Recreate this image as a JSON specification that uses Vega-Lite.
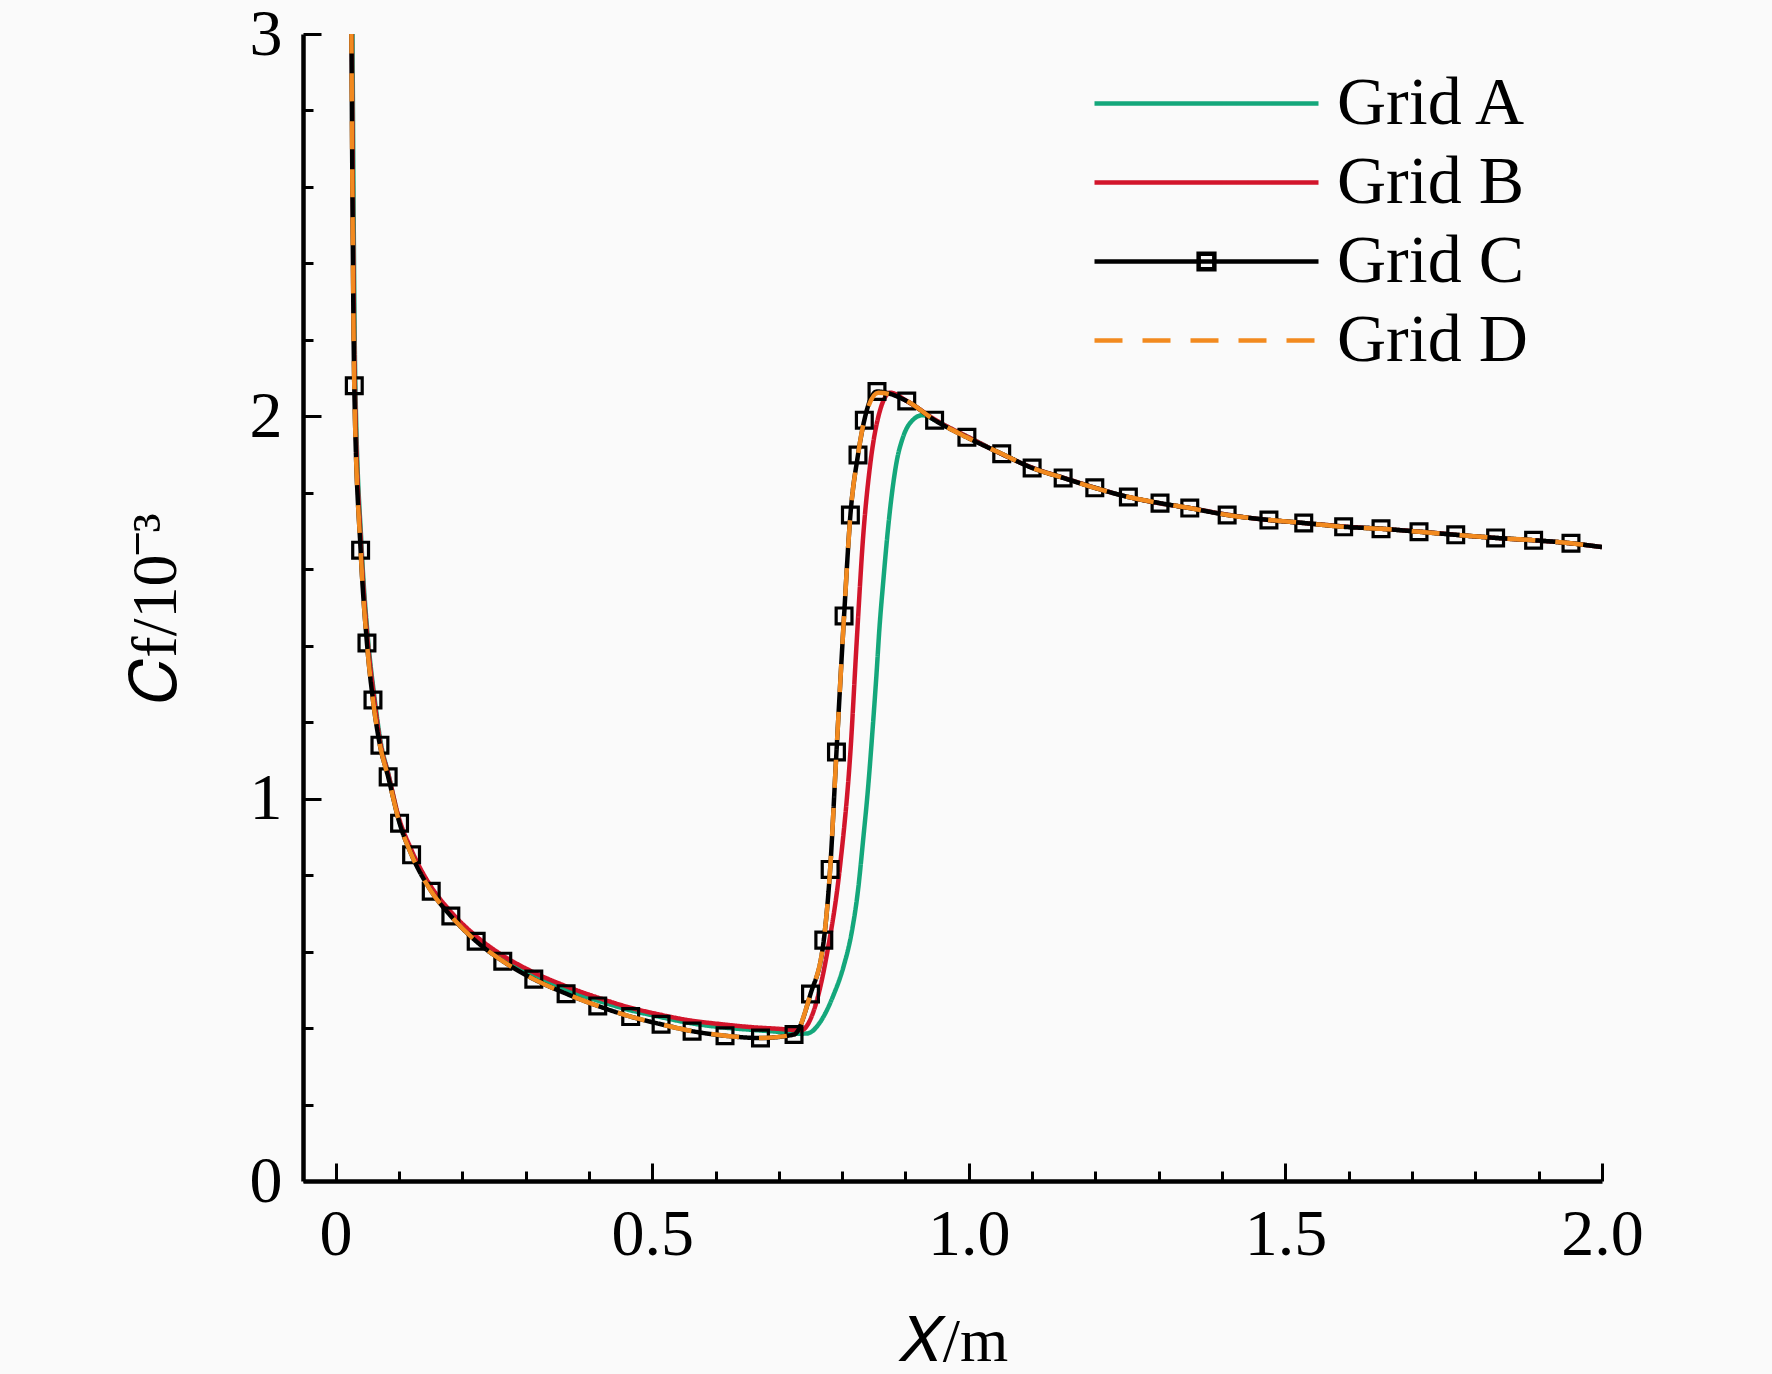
{
  "$schema": "https://vega.github.io/schema/vega-lite/v6.json",
  "width": 1299,
  "height": 1147,
  "autosize": "none",
  "padding": {"left": 303, "top": 34, "right": 170, "bottom": 193},
  "background": "#fafafa",
  "config": {
    "view": {"stroke": null},
    "font": "Liberation Serif"
  },
  "datasets": {
    "curves": [
      {"series": "Grid A", "x": 0.0255, "cf": 3.4},
      {"series": "Grid A", "x": 0.0267, "cf": 3.0},
      {"series": "Grid A", "x": 0.0282, "cf": 2.6},
      {"series": "Grid A", "x": 0.031, "cf": 2.1},
      {"series": "Grid A", "x": 0.041, "cf": 1.66},
      {"series": "Grid A", "x": 0.051, "cf": 1.42},
      {"series": "Grid A", "x": 0.061, "cf": 1.27},
      {"series": "Grid A", "x": 0.071, "cf": 1.15},
      {"series": "Grid A", "x": 0.084, "cf": 1.06},
      {"series": "Grid A", "x": 0.1, "cf": 0.945},
      {"series": "Grid A", "x": 0.12, "cf": 0.86},
      {"series": "Grid A", "x": 0.15, "cf": 0.768},
      {"series": "Grid A", "x": 0.18, "cf": 0.702},
      {"series": "Grid A", "x": 0.22, "cf": 0.637},
      {"series": "Grid A", "x": 0.26, "cf": 0.587},
      {"series": "Grid A", "x": 0.31, "cf": 0.54},
      {"series": "Grid A", "x": 0.36, "cf": 0.503},
      {"series": "Grid A", "x": 0.41, "cf": 0.474},
      {"series": "Grid A", "x": 0.46, "cf": 0.449},
      {"series": "Grid A", "x": 0.51, "cf": 0.43},
      {"series": "Grid A", "x": 0.56, "cf": 0.413},
      {"series": "Grid A", "x": 0.61, "cf": 0.402},
      {"series": "Grid A", "x": 0.66, "cf": 0.395},
      {"series": "Grid A", "x": 0.7, "cf": 0.39},
      {"series": "Grid A", "x": 0.73, "cf": 0.385},
      {"series": "Grid A", "x": 0.745, "cf": 0.386},
      {"series": "Grid A", "x": 0.765, "cf": 0.415},
      {"series": "Grid A", "x": 0.786, "cf": 0.485},
      {"series": "Grid A", "x": 0.802, "cf": 0.56},
      {"series": "Grid A", "x": 0.815, "cf": 0.65},
      {"series": "Grid A", "x": 0.825, "cf": 0.76},
      {"series": "Grid A", "x": 0.833, "cf": 0.89},
      {"series": "Grid A", "x": 0.841, "cf": 1.03},
      {"series": "Grid A", "x": 0.848, "cf": 1.18},
      {"series": "Grid A", "x": 0.854, "cf": 1.32},
      {"series": "Grid A", "x": 0.859, "cf": 1.449},
      {"series": "Grid A", "x": 0.865, "cf": 1.57},
      {"series": "Grid A", "x": 0.871, "cf": 1.682},
      {"series": "Grid A", "x": 0.878, "cf": 1.79},
      {"series": "Grid A", "x": 0.886, "cf": 1.881},
      {"series": "Grid A", "x": 0.896, "cf": 1.945},
      {"series": "Grid A", "x": 0.907, "cf": 1.982},
      {"series": "Grid A", "x": 0.927, "cf": 2.003},
      {"series": "Grid A", "x": 0.949, "cf": 1.988},
      {"series": "Grid A", "x": 0.975, "cf": 1.965},
      {"series": "Grid A", "x": 1.0, "cf": 1.945},
      {"series": "Grid A", "x": 1.05, "cf": 1.903},
      {"series": "Grid A", "x": 1.1, "cf": 1.866},
      {"series": "Grid A", "x": 1.15, "cf": 1.839},
      {"series": "Grid A", "x": 1.2, "cf": 1.813},
      {"series": "Grid A", "x": 1.25, "cf": 1.79},
      {"series": "Grid A", "x": 1.3, "cf": 1.773},
      {"series": "Grid A", "x": 1.35, "cf": 1.76},
      {"series": "Grid A", "x": 1.4, "cf": 1.745},
      {"series": "Grid A", "x": 1.45, "cf": 1.733},
      {"series": "Grid A", "x": 1.5, "cf": 1.725},
      {"series": "Grid A", "x": 1.55, "cf": 1.718},
      {"series": "Grid A", "x": 1.6, "cf": 1.711},
      {"series": "Grid A", "x": 1.65, "cf": 1.706},
      {"series": "Grid A", "x": 1.7, "cf": 1.7},
      {"series": "Grid A", "x": 1.75, "cf": 1.693},
      {"series": "Grid A", "x": 1.8, "cf": 1.686},
      {"series": "Grid A", "x": 1.85, "cf": 1.68},
      {"series": "Grid A", "x": 1.9, "cf": 1.675},
      {"series": "Grid A", "x": 1.95, "cf": 1.668},
      {"series": "Grid A", "x": 2.0, "cf": 1.658},

      {"series": "Grid B", "x": 0.0245, "cf": 3.4},
      {"series": "Grid B", "x": 0.0257, "cf": 3.0},
      {"series": "Grid B", "x": 0.0272, "cf": 2.6},
      {"series": "Grid B", "x": 0.0302, "cf": 2.1},
      {"series": "Grid B", "x": 0.0402, "cf": 1.66},
      {"series": "Grid B", "x": 0.0502, "cf": 1.42},
      {"series": "Grid B", "x": 0.0602, "cf": 1.27},
      {"series": "Grid B", "x": 0.0702, "cf": 1.15},
      {"series": "Grid B", "x": 0.083, "cf": 1.065},
      {"series": "Grid B", "x": 0.1, "cf": 0.95},
      {"series": "Grid B", "x": 0.12, "cf": 0.865},
      {"series": "Grid B", "x": 0.15, "cf": 0.772},
      {"series": "Grid B", "x": 0.18, "cf": 0.708},
      {"series": "Grid B", "x": 0.22, "cf": 0.643},
      {"series": "Grid B", "x": 0.26, "cf": 0.594},
      {"series": "Grid B", "x": 0.31, "cf": 0.548},
      {"series": "Grid B", "x": 0.36, "cf": 0.512},
      {"series": "Grid B", "x": 0.41, "cf": 0.482},
      {"series": "Grid B", "x": 0.46, "cf": 0.456},
      {"series": "Grid B", "x": 0.51, "cf": 0.436},
      {"series": "Grid B", "x": 0.56, "cf": 0.42},
      {"series": "Grid B", "x": 0.61, "cf": 0.41},
      {"series": "Grid B", "x": 0.66, "cf": 0.402},
      {"series": "Grid B", "x": 0.7, "cf": 0.398},
      {"series": "Grid B", "x": 0.735, "cf": 0.394},
      {"series": "Grid B", "x": 0.755, "cf": 0.445},
      {"series": "Grid B", "x": 0.776, "cf": 0.594},
      {"series": "Grid B", "x": 0.797, "cf": 0.829},
      {"series": "Grid B", "x": 0.813, "cf": 1.122},
      {"series": "Grid B", "x": 0.823, "cf": 1.412},
      {"series": "Grid B", "x": 0.833, "cf": 1.682},
      {"series": "Grid B", "x": 0.844, "cf": 1.87},
      {"series": "Grid B", "x": 0.857, "cf": 1.998},
      {"series": "Grid B", "x": 0.876, "cf": 2.062},
      {"series": "Grid B", "x": 0.902, "cf": 2.04},
      {"series": "Grid B", "x": 0.95, "cf": 1.988},
      {"series": "Grid B", "x": 1.0, "cf": 1.945},
      {"series": "Grid B", "x": 1.05, "cf": 1.903},
      {"series": "Grid B", "x": 1.1, "cf": 1.866},
      {"series": "Grid B", "x": 1.15, "cf": 1.839},
      {"series": "Grid B", "x": 1.2, "cf": 1.813},
      {"series": "Grid B", "x": 1.25, "cf": 1.79},
      {"series": "Grid B", "x": 1.3, "cf": 1.773},
      {"series": "Grid B", "x": 1.35, "cf": 1.76},
      {"series": "Grid B", "x": 1.4, "cf": 1.745},
      {"series": "Grid B", "x": 1.45, "cf": 1.733},
      {"series": "Grid B", "x": 1.5, "cf": 1.725},
      {"series": "Grid B", "x": 1.55, "cf": 1.718},
      {"series": "Grid B", "x": 1.6, "cf": 1.711},
      {"series": "Grid B", "x": 1.65, "cf": 1.706},
      {"series": "Grid B", "x": 1.7, "cf": 1.7},
      {"series": "Grid B", "x": 1.75, "cf": 1.693},
      {"series": "Grid B", "x": 1.8, "cf": 1.686},
      {"series": "Grid B", "x": 1.85, "cf": 1.68},
      {"series": "Grid B", "x": 1.9, "cf": 1.675},
      {"series": "Grid B", "x": 1.95, "cf": 1.668},
      {"series": "Grid B", "x": 2.0, "cf": 1.658},

      {"series": "Grid C", "x": 0.0238, "cf": 3.4},
      {"series": "Grid C", "x": 0.025, "cf": 3.0},
      {"series": "Grid C", "x": 0.0265, "cf": 2.6},
      {"series": "Grid C", "x": 0.0295, "cf": 2.08},
      {"series": "Grid C", "x": 0.0395, "cf": 1.65},
      {"series": "Grid C", "x": 0.0495, "cf": 1.407},
      {"series": "Grid C", "x": 0.059, "cf": 1.258},
      {"series": "Grid C", "x": 0.07, "cf": 1.14},
      {"series": "Grid C", "x": 0.083, "cf": 1.057},
      {"series": "Grid C", "x": 0.101, "cf": 0.936},
      {"series": "Grid C", "x": 0.12, "cf": 0.853},
      {"series": "Grid C", "x": 0.151, "cf": 0.758},
      {"series": "Grid C", "x": 0.182, "cf": 0.693},
      {"series": "Grid C", "x": 0.222, "cf": 0.627},
      {"series": "Grid C", "x": 0.264, "cf": 0.575},
      {"series": "Grid C", "x": 0.313, "cf": 0.528},
      {"series": "Grid C", "x": 0.364, "cf": 0.49},
      {"series": "Grid C", "x": 0.414, "cf": 0.458},
      {"series": "Grid C", "x": 0.466, "cf": 0.43},
      {"series": "Grid C", "x": 0.514, "cf": 0.41},
      {"series": "Grid C", "x": 0.563, "cf": 0.392},
      {"series": "Grid C", "x": 0.615, "cf": 0.38},
      {"series": "Grid C", "x": 0.671, "cf": 0.374},
      {"series": "Grid C", "x": 0.724, "cf": 0.383},
      {"series": "Grid C", "x": 0.75, "cf": 0.489},
      {"series": "Grid C", "x": 0.771, "cf": 0.63},
      {"series": "Grid C", "x": 0.781, "cf": 0.815},
      {"series": "Grid C", "x": 0.791, "cf": 1.122},
      {"series": "Grid C", "x": 0.803, "cf": 1.478},
      {"series": "Grid C", "x": 0.813, "cf": 1.742},
      {"series": "Grid C", "x": 0.825, "cf": 1.899},
      {"series": "Grid C", "x": 0.835, "cf": 1.99},
      {"series": "Grid C", "x": 0.855, "cf": 2.065},
      {"series": "Grid C", "x": 0.902, "cf": 2.04},
      {"series": "Grid C", "x": 0.946, "cf": 1.99},
      {"series": "Grid C", "x": 0.997, "cf": 1.945},
      {"series": "Grid C", "x": 1.052, "cf": 1.902},
      {"series": "Grid C", "x": 1.1, "cf": 1.865},
      {"series": "Grid C", "x": 1.149, "cf": 1.839},
      {"series": "Grid C", "x": 1.199, "cf": 1.813},
      {"series": "Grid C", "x": 1.252, "cf": 1.789},
      {"series": "Grid C", "x": 1.302, "cf": 1.773},
      {"series": "Grid C", "x": 1.349, "cf": 1.76},
      {"series": "Grid C", "x": 1.408, "cf": 1.742},
      {"series": "Grid C", "x": 1.474, "cf": 1.729},
      {"series": "Grid C", "x": 1.529, "cf": 1.721},
      {"series": "Grid C", "x": 1.592, "cf": 1.711},
      {"series": "Grid C", "x": 1.651, "cf": 1.706},
      {"series": "Grid C", "x": 1.711, "cf": 1.698},
      {"series": "Grid C", "x": 1.769, "cf": 1.69},
      {"series": "Grid C", "x": 1.832, "cf": 1.682},
      {"series": "Grid C", "x": 1.892, "cf": 1.676},
      {"series": "Grid C", "x": 1.951, "cf": 1.668},
      {"series": "Grid C", "x": 2.0, "cf": 1.658},

      {"series": "Grid D", "x": 0.0238, "cf": 3.4},
      {"series": "Grid D", "x": 0.025, "cf": 3.0},
      {"series": "Grid D", "x": 0.0265, "cf": 2.6},
      {"series": "Grid D", "x": 0.0295, "cf": 2.08},
      {"series": "Grid D", "x": 0.0395, "cf": 1.65},
      {"series": "Grid D", "x": 0.0495, "cf": 1.407},
      {"series": "Grid D", "x": 0.059, "cf": 1.258},
      {"series": "Grid D", "x": 0.07, "cf": 1.14},
      {"series": "Grid D", "x": 0.083, "cf": 1.057},
      {"series": "Grid D", "x": 0.101, "cf": 0.936},
      {"series": "Grid D", "x": 0.12, "cf": 0.853},
      {"series": "Grid D", "x": 0.151, "cf": 0.758},
      {"series": "Grid D", "x": 0.182, "cf": 0.693},
      {"series": "Grid D", "x": 0.222, "cf": 0.627},
      {"series": "Grid D", "x": 0.264, "cf": 0.575},
      {"series": "Grid D", "x": 0.313, "cf": 0.528},
      {"series": "Grid D", "x": 0.364, "cf": 0.49},
      {"series": "Grid D", "x": 0.414, "cf": 0.458},
      {"series": "Grid D", "x": 0.466, "cf": 0.43},
      {"series": "Grid D", "x": 0.514, "cf": 0.41},
      {"series": "Grid D", "x": 0.563, "cf": 0.392},
      {"series": "Grid D", "x": 0.615, "cf": 0.38},
      {"series": "Grid D", "x": 0.671, "cf": 0.374},
      {"series": "Grid D", "x": 0.724, "cf": 0.383},
      {"series": "Grid D", "x": 0.75, "cf": 0.489},
      {"series": "Grid D", "x": 0.771, "cf": 0.63},
      {"series": "Grid D", "x": 0.781, "cf": 0.815},
      {"series": "Grid D", "x": 0.791, "cf": 1.122},
      {"series": "Grid D", "x": 0.803, "cf": 1.478},
      {"series": "Grid D", "x": 0.813, "cf": 1.742},
      {"series": "Grid D", "x": 0.825, "cf": 1.899},
      {"series": "Grid D", "x": 0.835, "cf": 1.99},
      {"series": "Grid D", "x": 0.857, "cf": 2.062},
      {"series": "Grid D", "x": 0.902, "cf": 2.04},
      {"series": "Grid D", "x": 0.946, "cf": 1.99},
      {"series": "Grid D", "x": 0.997, "cf": 1.945},
      {"series": "Grid D", "x": 1.052, "cf": 1.902},
      {"series": "Grid D", "x": 1.1, "cf": 1.865},
      {"series": "Grid D", "x": 1.149, "cf": 1.839},
      {"series": "Grid D", "x": 1.199, "cf": 1.813},
      {"series": "Grid D", "x": 1.252, "cf": 1.789},
      {"series": "Grid D", "x": 1.302, "cf": 1.773},
      {"series": "Grid D", "x": 1.349, "cf": 1.76},
      {"series": "Grid D", "x": 1.408, "cf": 1.742},
      {"series": "Grid D", "x": 1.474, "cf": 1.729},
      {"series": "Grid D", "x": 1.529, "cf": 1.721},
      {"series": "Grid D", "x": 1.592, "cf": 1.711},
      {"series": "Grid D", "x": 1.651, "cf": 1.706},
      {"series": "Grid D", "x": 1.711, "cf": 1.698},
      {"series": "Grid D", "x": 1.769, "cf": 1.69},
      {"series": "Grid D", "x": 1.832, "cf": 1.682},
      {"series": "Grid D", "x": 1.892, "cf": 1.676},
      {"series": "Grid D", "x": 1.951, "cf": 1.668},
      {"series": "Grid D", "x": 2.0, "cf": 1.658}
    ]
  },
  "data": {"name": "curves"},
  "encoding": {
    "x": {
      "field": "x",
      "type": "quantitative",
      "scale": {"domain": [-0.0515, 2.0], "nice": false, "zero": false},
      "axis": {
        "title": "𝑋/m",
        "titleFont": "Liberation Serif",
        "titleFontSize": 62,
        "titleFontWeight": "normal",
        "titleColor": "#000000",
        "titlePadding": 36,
        "values": [0, 0.1, 0.2, 0.3, 0.4, 0.5, 0.6, 0.7, 0.8, 0.9, 1.0, 1.1, 1.2, 1.3, 1.4, 1.5, 1.6, 1.7, 1.8, 1.9, 2.0],
        "labelExpr": "abs(datum.value*2 - round(datum.value*2)) < 0.001 ? (datum.value == 0 ? '0' : format(datum.value, '.1f')) : ''",
        "labelFont": "Liberation Serif",
        "labelFontSize": 66,
        "labelColor": "#000000",
        "labelPadding": 39,
        "labelFlush": false,
        "labelOverlap": false,
        "domainColor": "#000000",
        "domainWidth": 4.5,
        "tickColor": "#000000",
        "tickWidth": 3,
        "tickSize": {"condition": {"test": "abs(datum.value*2 - round(datum.value*2)) < 0.001", "value": -18}, "value": -10},
        "grid": false
      }
    },
    "y": {
      "field": "cf",
      "type": "quantitative",
      "scale": {"domain": [0, 3], "nice": false},
      "axis": {
        "title": "𝐶f/10⁻³",
        "titleFont": "Liberation Serif",
        "titleFontSize": 64,
        "titleFontWeight": "normal",
        "titleColor": "#000000",
        "titlePadding": 61,
        "values": [0, 0.2, 0.4, 0.6, 0.8, 1.0, 1.2, 1.4, 1.6, 1.8, 2.0, 2.2, 2.4, 2.6, 2.8, 3.0],
        "labelExpr": "abs(datum.value - round(datum.value)) < 0.001 ? format(datum.value, 'd') : ''",
        "labelFont": "Liberation Serif",
        "labelFontSize": 66,
        "labelColor": "#000000",
        "labelPadding": 39,
        "labelFlush": false,
        "labelOverlap": false,
        "domainColor": "#000000",
        "domainWidth": 4.5,
        "tickColor": "#000000",
        "tickWidth": 3,
        "tickSize": {"condition": {"test": "abs(datum.value - round(datum.value)) < 0.001", "value": -18}, "value": -10},
        "grid": false
      }
    }
  },
  "layer": [
    {
      "transform": [{"filter": "datum.series != 'Grid D'"}],
      "mark": {"type": "line", "strokeWidth": 4.5, "interpolate": "monotone", "clip": true},
      "encoding": {
        "color": {
          "field": "series",
          "type": "nominal",
          "scale": {"domain": ["Grid A", "Grid B", "Grid C", "Grid D"], "range": ["#14a77b", "#d2152b", "#000000", "#f28a1f"]},
          "legend": {
            "title": null,
            "orient": "none",
            "legendX": 789,
            "legendY": 30,
            "padding": 0,
            "symbolType": "stroke",
            "symbolSize": 50176,
            "symbolStrokeWidth": 4.5,
            "clipHeight": 79,
            "rowPadding": 0,
            "labelFont": "Liberation Serif",
            "labelFontSize": 68,
            "labelColor": "#000000",
            "labelOffset": 16,
            "labelLimit": 400,
            "encode": {
              "symbols": {
                "update": {
                  "shape": {"signal": "datum.label === 'Grid C' ? 'M-1,0H1M-0.07,-0.07H0.07V0.07H-0.07Z' : 'stroke'"}
                }
              }
            }
          }
        },
        "strokeDash": {
          "field": "series",
          "type": "nominal",
          "scale": {"domain": ["Grid A", "Grid B", "Grid C", "Grid D"], "range": [[1, 0], [1, 0], [1, 0], [28, 20]]},
          "legend": null
        }
      }
    },
    {
      "transform": [{"filter": "datum.series == 'Grid C' && datum.cf < 2.5 && datum.x < 1.99"}],
      "mark": {"type": "point", "shape": "square", "filled": false, "size": 250, "strokeWidth": 3.2, "color": "#000000", "opacity": 1, "clip": true}
    },
    {
      "transform": [{"filter": "datum.series == 'Grid D'"}],
      "mark": {"type": "line", "strokeWidth": 4.5, "interpolate": "monotone", "clip": true},
      "encoding": {
        "color": {"field": "series", "type": "nominal"},
        "strokeDash": {"field": "series", "type": "nominal"}
      }
    }
  ]
}
